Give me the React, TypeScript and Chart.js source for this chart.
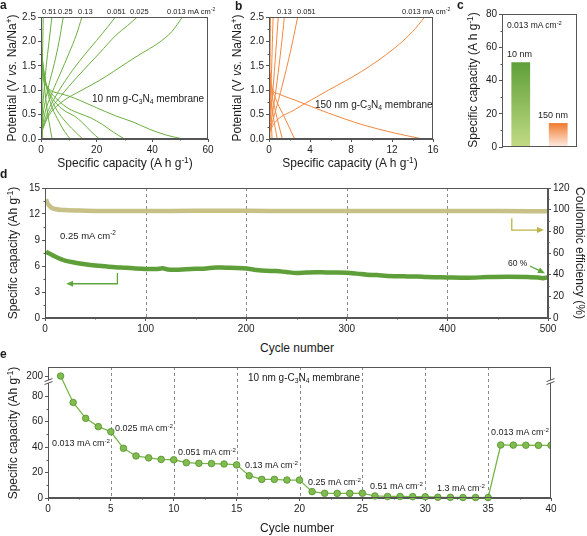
import React, { useEffect, useRef } from 'react';
import { Chart, registerables, LinearScale } from 'chart.js';

Chart.register(...registerables);

const FONT = "'Liberation Sans', Arial, Helvetica, sans-serif";
Chart.defaults.font.family = FONT;
Chart.defaults.color = '#222';

const AXIS = '#555';
const GREEN = '#6aae3e';
const ORANGE = '#f3873e';

type P = [number, number];

// ---------- Panel a (10 nm, green) : [capacity, potential] ----------
const A_CHG_13: P[] = [[0, 0.3], [0.3, 1.0], [0.55, 1.7], [0.8, 2.5]];
const A_CHG_051: P[] = [[0, 0.2], [0.8, 0.8], [1.8, 1.45], [2.9, 2.0], [3.9, 2.5]];
const A_CHG_025: P[] = [[0, 0.15], [1, 0.6], [2.8, 1.1], [4.8, 1.55], [6.5, 2.0], [8, 2.5]];
const A_CHG_013: P[] = [[0, 0.1], [1.5, 0.55], [4, 0.95], [7, 1.35], [10, 1.75], [12.8, 2.15], [14.7, 2.5]];
const A_CHG_0051: P[] = [[0, 0.1], [2, 0.5], [5, 0.85], [10, 1.3], [15, 1.68], [20, 2.02], [24, 2.3], [26.7, 2.5]];
const A_CHG_0025: P[] = [[0, 0.1], [3, 0.55], [7, 0.87], [13, 1.27], [21, 1.76], [27, 2.13], [31, 2.32], [34.6, 2.5]];
const A_CHG_0013: P[] = [[0, 0.15], [3, 0.5], [8, 0.78], [14, 0.98], [21, 1.2], [26, 1.38], [31, 1.57], [36, 1.75], [42, 1.96], [47, 2.2], [50.8, 2.5]];
const A_DIS_0013: P[] = [[0, 1.5], [1, 1.2], [3, 1.02], [7, 0.93], [10, 0.88], [14, 0.79], [20, 0.64], [27, 0.47], [33, 0.35], [39, 0.2], [45, 0.08], [51, 0]];
const A_DIS_0025: P[] = [[0, 1.65], [1, 1.28], [3, 1.0], [6, 0.8], [10, 0.62], [14, 0.52], [18, 0.43], [22, 0.3], [26, 0.14], [30, 0]];
const A_DIS_0051: P[] = [[0, 1.75], [1, 1.32], [3, 0.95], [6, 0.7], [9, 0.56], [12, 0.47], [15, 0.33], [18, 0.15], [21, 0]];
const A_DIS_013: P[] = [[0, 1.85], [1, 1.38], [2.5, 1.0], [5, 0.66], [8, 0.41], [11, 0.22], [15, 0]];
const A_DIS_025: P[] = [[0, 2.0], [0.8, 1.5], [2, 1.05], [4, 0.65], [6.5, 0.35], [8.5, 0.15], [10.5, 0]];
const A_DIS_051: P[] = [[0, 2.2], [0.5, 1.6], [1.2, 1.1], [2.2, 0.6], [3.2, 0.25], [4, 0]];
const A_DIS_13: P[] = [[0, 2.4], [0.15, 1.6], [0.35, 0.8], [0.6, 0]];
const A_CURVES = [A_CHG_13, A_CHG_051, A_CHG_025, A_CHG_013, A_CHG_0051, A_CHG_0025, A_CHG_0013,
  A_DIS_0013, A_DIS_0025, A_DIS_0051, A_DIS_013, A_DIS_025, A_DIS_051, A_DIS_13];

// ---------- Panel b (150 nm, orange) ----------
const B_CHG_0013: P[] = [[0, 0.12], [0.5, 0.32], [2.5, 0.6], [5.8, 1.0], [9, 1.38], [12.3, 1.87], [14, 2.2], [15.2, 2.5]];
const B_CHG_0051: P[] = [[0, 0.1], [0.6, 0.55], [1.3, 1.1], [2.1, 1.8], [2.8, 2.5]];
const B_CHG_013: P[] = [[0, 0.1], [0.4, 0.6], [0.8, 1.2], [1.2, 1.9], [1.5, 2.5]];
const B_CHG_025: P[] = [[0, 0.15], [0.3, 0.8], [0.6, 1.6], [0.9, 2.5]];
const B_CHG_051: P[] = [[0, 0.2], [0.2, 1.1], [0.4, 2.5]];
const B_CHG_13: P[] = [[0, 0.3], [0.08, 1.2], [0.15, 2.5]];
const B_DIS_0013: P[] = [[0, 1.2], [0.35, 1.0], [1, 0.92], [2.5, 0.8], [5.8, 0.53], [9, 0.3], [12.3, 0.12], [15, 0]];
const B_DIS_0051: P[] = [[0, 1.45], [0.3, 1.05], [0.8, 0.75], [1.5, 0.45], [2.5, 0]];
const B_DIS_013: P[] = [[0, 1.55], [0.2, 1.05], [0.6, 0.6], [1.3, 0]];
const B_DIS_025: P[] = [[0, 1.7], [0.15, 1.0], [0.4, 0.5], [0.8, 0]];
const B_DIS_051: P[] = [[0, 1.9], [0.1, 1.0], [0.3, 0]];
const B_DIS_13: P[] = [[0, 2.1], [0.05, 1.0], [0.1, 0]];
const B_CURVES = [B_CHG_0013, B_CHG_0051, B_CHG_013, B_CHG_025, B_CHG_051, B_CHG_13,
  B_DIS_0013, B_DIS_0051, B_DIS_013, B_DIS_025, B_DIS_051, B_DIS_13];

// ---------- Panel c ----------
const C_LABELS = ['10 nm', '150 nm'];
const C_VALUES = [51, 14.4];
const C_TOP = ['#5e9f38', '#f07a2e'];
const C_BOTTOM = ['#c2db84', '#fdeee6'];

// ---------- Panel d : [cycle, value] ----------
const D_CAP: P[] = [[1, 7.65], [5, 7.4], [10, 7.1], [20, 6.62], [30, 6.38], [40, 6.2], [50, 6.06], [60, 5.96], [70, 5.86],
  [80, 5.8], [90, 5.72], [100, 5.66], [110, 5.64], [117, 5.74], [122, 5.6], [130, 5.57], [140, 5.62], [150, 5.67],
  [160, 5.72], [170, 5.83], [180, 5.8], [190, 5.78], [200, 5.72], [210, 5.55], [220, 5.45], [230, 5.42], [240, 5.3],
  [250, 5.2], [260, 5.25], [270, 5.28], [280, 5.25], [290, 5.25], [300, 5.22], [310, 5.12], [320, 5.0], [330, 4.95],
  [340, 4.85], [350, 4.82], [360, 4.8], [370, 4.78], [380, 4.72], [390, 4.7], [400, 4.68], [420, 4.65], [440, 4.72],
  [460, 4.75], [480, 4.72], [490, 4.68], [495, 4.6], [500, 4.7]];
const D_CE: P[] = [[1, 109.5], [2, 107], [4, 104], [6, 102.2], [10, 100.6], [20, 99.6], [40, 99.1], [100, 98.8],
  [150, 98.9], [200, 98.9], [250, 98.8], [300, 98.8], [350, 98.8], [400, 98.7], [450, 98.7], [500, 98.6]];

// ---------- Panel e ----------
const E_CYCLES = [1, 2, 3, 4, 5, 6, 7, 8, 9, 10, 11, 12, 13, 14, 15, 16, 17, 18, 19, 20,
  21, 22, 23, 24, 25, 26, 27, 28, 29, 30, 31, 32, 33, 34, 35, 36, 37, 38, 39, 40];
const E_CAP = [200, 75, 62.5, 56, 52, 39, 33, 31.5, 30.3, 30, 27.7, 27.2, 27, 26.7, 26,
  17.5, 14.6, 14.6, 14.1, 14.1, 5, 3.7, 3.6, 3.6, 3.7, 1.6, 1.2, 1.2, 1.1, 1.0,
  0.6, 0.5, 0.4, 0.4, 0.3, 41.6, 41.5, 41.4, 41.3, 41.3];
const E_TICKS = [0, 20, 40, 60, 80, 200];

// broken axis mapping for panel e
const BRK_LO = 90, BRK_HI = 190, BRK_SLOPE = 0.57, BRK_VMAX = 102.8;
const fwd = (v: number) => (v <= BRK_LO ? v : v >= BRK_HI ? BRK_LO + (v - BRK_HI) * BRK_SLOPE : BRK_LO);
const inv = (u: number) => (u <= BRK_LO ? u : BRK_HI + (u - BRK_LO) / BRK_SLOPE);

class BrokenScale extends (LinearScale as any) {
  static id = 'broken';
  static defaults = {};
  determineDataLimits() { (this as any).min = 0; (this as any).max = BRK_VMAX; }
  buildTicks() { return E_TICKS.map((value) => ({ value })); }
  getPixelForValue(v: number) { return super.getPixelForValue(fwd(v)); }
  getValueForPixel(p: number) { return inv(super.getValueForPixel(p)); }
}
Chart.register(BrokenScale as any);

// ---------- helpers ----------
const grid = { display: true, drawOnChartArea: false, drawTicks: true, tickLength: 3, color: AXIS, lineWidth: 1 };
const border = { display: true, color: AXIS, width: 1 };
const tk = (extra: any = {}) => ({ font: { family: FONT, size: 10 }, color: '#222', padding: 2, autoSkip: false, maxRotation: 0, ...extra });

function lin(min: number, max: number, step: number, fit: (s: any) => void, tickExtra: any = {}, extra: any = {}) {
  return { type: 'linear', min, max, grid, border, ticks: tk({ stepSize: step, ...tickExtra }), afterFit: fit, ...extra };
}

function drawArrow(ctx: CanvasRenderingContext2D, pts: P[], color: string) {
  ctx.save();
  ctx.strokeStyle = color; ctx.fillStyle = color; ctx.lineWidth = 1.3;
  const n = pts.length;
  const [x1, y1] = pts[n - 2]; const [x2, y2] = pts[n - 1];
  const ang = Math.atan2(y2 - y1, x2 - x1);
  const L = 7, W = 3;
  ctx.beginPath();
  pts.forEach(([x, y], i) => {
    if (i === 0) ctx.moveTo(x, y);
    else if (i === n - 1) ctx.lineTo(x - (L - 1) * Math.cos(ang), y - (L - 1) * Math.sin(ang));
    else ctx.lineTo(x, y);
  });
  ctx.stroke();
  ctx.beginPath();
  ctx.moveTo(x2, y2);
  ctx.lineTo(x2 - L * Math.cos(ang) + W * Math.sin(ang), y2 - L * Math.sin(ang) - W * Math.cos(ang));
  ctx.lineTo(x2 - L * Math.cos(ang) - W * Math.sin(ang), y2 - L * Math.sin(ang) + W * Math.cos(ang));
  ctx.closePath(); ctx.fill();
  ctx.restore();
}

type Decor = {
  dashX?: number[];
  arrows?: { pts: P[]; axis: string; color: string }[];
  breakY?: boolean;
};

function decor(opt: Decor) {
  return {
    id: 'decor',
    beforeDatasetsDraw(chart: any) {
      const { ctx, chartArea: a, scales } = chart;
      if (opt.dashX) {
        ctx.save();
        ctx.strokeStyle = '#8a8a8a'; ctx.lineWidth = 1; ctx.setLineDash([3, 3]);
        for (const v of opt.dashX) {
          const x = Math.round(scales.x.getPixelForValue(v)) + 0.5;
          ctx.beginPath(); ctx.moveTo(x, a.top); ctx.lineTo(x, a.bottom); ctx.stroke();
        }
        ctx.restore();
      }
    },
    afterDraw(chart: any) {
      const { ctx, chartArea: a, scales } = chart;
      ctx.save();
      ctx.strokeStyle = AXIS; ctx.lineWidth = 1;
      const l = Math.round(a.left) + 0.5, t = Math.round(a.top) + 0.5;
      const r = Math.round(a.right) - 0.5, b = Math.round(a.bottom) - 0.5;
      ctx.strokeRect(l, t, r - l, b - t);
      for (const id of Object.keys(scales)) {
        const s = scales[id];
        if (s.options.display === false || s.type === 'category') continue;
        const vals = s.ticks.map((q: any) => q.value);
        if (vals.length < 2) continue;
        const step = vals[1] - vals[0];
        ctx.beginPath();
        for (let i = 0; i < vals.length - 1; i++) {
          if (Math.abs(vals[i + 1] - vals[i] - step) > 1e-9) continue;
          const p = Math.round(s.getPixelForValue((vals[i] + vals[i + 1]) / 2)) + 0.5;
          if (s.isHorizontal()) { ctx.moveTo(p, b); ctx.lineTo(p, b + 2); }
          else if (s.position === 'right') { ctx.moveTo(r, p); ctx.lineTo(r + 2, p); }
          else { ctx.moveTo(l, p); ctx.lineTo(l - 2, p); }
        }
        ctx.stroke();
      }
      if (opt.breakY) {
        const ys = scales.y;
        const p200 = ys.getPixelForValue(200), p80 = ys.getPixelForValue(80);
        const p = p200 + (p80 - p200) * 0.3;
        for (const x of [l, r]) {
          ctx.fillStyle = '#fff';
          ctx.fillRect(x - 2, p - 2, 4, 3);
          ctx.beginPath();
          ctx.moveTo(x - 4, p - 0.5); ctx.lineTo(x + 4, p - 3.5);
          ctx.moveTo(x - 4, p + 2.5); ctx.lineTo(x + 4, p - 0.5);
          ctx.strokeStyle = AXIS; ctx.stroke();
        }
      }
      ctx.restore();
      if (opt.arrows) {
        for (const ar of opt.arrows) {
          const pts: P[] = ar.pts.map(([x, y]) => [scales.x.getPixelForValue(x), scales[ar.axis].getPixelForValue(y)]);
          drawArrow(ctx, pts, ar.color);
        }
      }
    },
  };
}

const noPlug = { legend: { display: false }, tooltip: { enabled: false } };

const lineSet = (data: P[], color: string) => ({
  data, borderColor: color, borderWidth: 1, pointRadius: 0, fill: false, cubicInterpolationMode: 'monotone',
});

// ---------- chart configs ----------
function makeA() {
  return {
    type: 'line',
    data: { datasets: A_CURVES.map((d) => lineSet(d, GREEN)) },
    options: {
      responsive: false, animation: false, events: [],
      layout: { padding: { left: 0, right: 12, top: 17, bottom: 10 } },
      plugins: noPlug,
      scales: {
        x: lin(0, 60, 20, (s) => { s.height = 16; }),
        y: lin(0, 2.5, 0.5, (s) => { s.width = 41; }, { callback: (v: number) => v.toFixed(1) }),
      },
    },
    plugins: [decor({})],
  };
}

function makeB() {
  return {
    type: 'line',
    data: { datasets: B_CURVES.map((d) => lineSet(d, ORANGE)) },
    options: {
      responsive: false, animation: false, events: [],
      layout: { padding: { left: 0, right: 15, top: 17, bottom: 10 } },
      plugins: noPlug,
      scales: {
        x: lin(0, 16, 4, (s) => { s.height = 16; }),
        y: lin(0, 2.5, 0.5, (s) => { s.width = 41; }, { callback: (v: number) => v.toFixed(1) }),
      },
    },
    plugins: [decor({})],
  };
}

function makeC() {
  return {
    type: 'bar',
    data: {
      labels: C_LABELS,
      datasets: [{
        data: C_VALUES,
        barPercentage: 0.5,
        categoryPercentage: 1,
        backgroundColor: (c: any) => {
          const chart = c.chart; const a = chart.chartArea; const i = c.dataIndex;
          if (!a) return C_TOP[i];
          const top = chart.scales.y.getPixelForValue(c.raw);
          const g = chart.ctx.createLinearGradient(0, top, 0, a.bottom);
          g.addColorStop(0, C_TOP[i]); g.addColorStop(1, C_BOTTOM[i]);
          return g;
        },
      }],
    },
    options: {
      responsive: false, animation: false, events: [],
      layout: { padding: { left: 0, right: 10, top: 14, bottom: 18 } },
      plugins: noPlug,
      scales: {
        x: { type: 'category', display: false },
        y: lin(0, 80, 20, (s) => { s.width = 36; }),
      },
    },
    plugins: [decor({})],
  };
}

function makeD() {
  return {
    type: 'line',
    data: {
      datasets: [
        { data: D_CE, yAxisID: 'y1', borderColor: '#c8c187', borderWidth: 4.5, pointRadius: 0, cubicInterpolationMode: 'monotone' },
        { data: D_CE, yAxisID: 'y1', borderColor: '#ebe7c6', borderWidth: 1.8, pointRadius: 0, cubicInterpolationMode: 'monotone' },
        { data: D_CAP, yAxisID: 'y', borderColor: '#5f9f39', borderWidth: 4.5, pointRadius: 0, cubicInterpolationMode: 'monotone' },
      ],
    },
    options: {
      responsive: false, animation: false, events: [],
      layout: { padding: { left: 0, right: 9, top: 10, bottom: 6 } },
      plugins: noPlug,
      scales: {
        x: lin(0, 500, 100, (s) => { s.height = 16; }),
        y: lin(0, 15, 3, (s) => { s.width = 45; }),
        y1: lin(0, 120, 20, (s) => { s.width = 30; }, {}, { position: 'right' }),
      },
    },
    plugins: [decor({
      dashX: [100, 200, 300, 400],
      arrows: [
        { pts: [[72, 5.2], [72, 3.95], [21, 3.95]], axis: 'y', color: '#5fa63c' },
        { pts: [[464, 92], [464, 81.2], [496, 81.2]], axis: 'y1', color: '#bdb446' },
        { pts: [[482, 48], [497, 41.3]], axis: 'y1', color: '#5fa63c' },
      ],
    })],
  };
}

function makeE() {
  return {
    type: 'line',
    data: {
      datasets: [{
        data: E_CYCLES.map((c, i) => [c, E_CAP[i]]),
        borderColor: '#78b548', borderWidth: 1.3, tension: 0,
        pointRadius: 3.3, pointBackgroundColor: '#80bd4e', pointBorderColor: '#548f30', pointBorderWidth: 0.8,
      }],
    },
    options: {
      responsive: false, animation: false, events: [],
      layout: { padding: { left: 0, right: 36, top: 9, bottom: 20 } },
      plugins: noPlug,
      scales: {
        x: lin(0, 40, 5, (s) => { s.height = 18; }),
        y: { type: 'broken', grid, border, ticks: tk({ callback: (v: number) => String(v) }), afterFit: (s: any) => { s.width = 48; } },
      },
    },
    plugins: [decor({ dashX: [5, 10, 15, 20, 25, 30, 35], breakY: true })],
  };
}

// ---------- components ----------
function ChartBox({ left, top, width, height, make }: any) {
  const ref = useRef<HTMLCanvasElement>(null);
  useEffect(() => {
    const chart = new Chart(ref.current as HTMLCanvasElement, make());
    return () => chart.destroy();
  }, []);
  return <canvas ref={ref} width={width} height={height} style={{ position: 'absolute', left, top, width, height }} />;
}

const Sup = ({ children }: any) => (
  <span style={{ fontSize: '0.68em', position: 'relative', top: '-0.55em', lineHeight: 0 }}>{children}</span>
);
const Sub = ({ children }: any) => (
  <span style={{ fontSize: '0.68em', position: 'relative', top: '0.35em', lineHeight: 0 }}>{children}</span>
);

function T({ x, y, s = 9, rot = 0, center = false, bold = false, children }: any) {
  const transform = rot ? `translate(-50%,-50%) rotate(${rot}deg)` : center ? 'translate(-50%,-50%)' : 'translateY(-50%)';
  return (
    <div style={{
      position: 'absolute', left: x, top: y, transform, fontSize: s, lineHeight: 1, whiteSpace: 'nowrap',
      fontFamily: FONT, fontWeight: bold ? 700 : 400, color: '#1a1a1a',
    }}>{children}</div>
  );
}

const cm2 = <>mA cm<Sup>-2</Sup></>;
const potTitle = <>Potential (V <i>vs.</i> Na/Na<Sup>+</Sup>)</>;
const capTitle = <>Specific capacity (A h g<Sup>-1</Sup>)</>;
const capTitle2 = <>Specific capacity (Ah g<Sup>-1</Sup>)</>;

export default function App() {
  return (
    <div style={{ position: 'absolute', left: 0, top: 0, width: 587, height: 536, background: '#fff', overflow: 'hidden' }}>
      <ChartBox left={0} top={0} width={220} height={165} make={makeA} />
      <ChartBox left={228} top={0} width={220} height={165} make={makeB} />
      <ChartBox left={466} top={0} width={121} height={165} make={makeC} />
      <ChartBox left={0} top={178} width={587} height={162} make={makeD} />
      <ChartBox left={0} top={358} width={587} height={178} make={makeE} />

      {/* panel letters */}
      <T x={0} y={5} s={12} bold>a</T>
      <T x={235} y={6} s={12} bold>b</T>
      <T x={457} y={5} s={12} bold>c</T>
      <T x={0} y={174} s={12} bold>d</T>
      <T x={0} y={354} s={12} bold>e</T>

      {/* panel a */}
      <T x={12} y={78} s={12} rot={-90}>{potTitle}</T>
      <T x={125} y={163} s={12} center>{capTitle}</T>
      <T x={42} y={12} s={7.5}>0.51</T>
      <T x={58} y={12} s={7.5}>0.25</T>
      <T x={78} y={12} s={7.5}>0.13</T>
      <T x={107} y={12} s={7.5}>0.051</T>
      <T x={130} y={12} s={7.5}>0.025</T>
      <T x={167} y={12} s={7.5}>0.013 {cm2}</T>
      <T x={92} y={99} s={10}>10 nm g-C<Sub>3</Sub>N<Sub>4</Sub> membrane</T>

      {/* panel b */}
      <T x={237} y={78} s={12} rot={-90}>{potTitle}</T>
      <T x={350} y={163} s={12} center>{capTitle}</T>
      <T x={277} y={12} s={7.5}>0.13</T>
      <T x={297} y={12} s={7.5}>0.051</T>
      <T x={402} y={12} s={7.5}>0.013 {cm2}</T>
      <T x={315} y={105} s={10}>150 nm g-C<Sub>3</Sub>N<Sub>4</Sub> membrane</T>

      {/* panel c */}
      <T x={473} y={80} s={12} rot={-90}>{capTitle}</T>
      <T x={507} y={25} s={8.5}>0.013 {cm2}</T>
      <T x={507} y={54} s={9}>10 nm</T>
      <T x={538} y={115} s={9}>150 nm</T>

      {/* panel d */}
      <T x={13} y={253} s={12} rot={-90}>{capTitle2}</T>
      <T x={580} y={253} s={12} rot={90}>Coulombic efficiency (%)</T>
      <T x={297} y={348} s={12} center>Cycle number</T>
      <T x={60} y={236} s={9.5}>0.25 {cm2}</T>
      <T x={508} y={263} s={8.5}>60 %</T>

      {/* panel e */}
      <T x={13} y={433} s={12} rot={-90}>{capTitle2}</T>
      <T x={297} y={528} s={12} center>Cycle number</T>
      <T x={248} y={378} s={10}>10 nm g-C<Sub>3</Sub>N<Sub>4</Sub> membrane</T>
      <T x={52} y={443} s={9}>0.013 {cm2}</T>
      <T x={115} y={428} s={9}>0.025 {cm2}</T>
      <T x={178} y={452} s={9}>0.051 {cm2}</T>
      <T x={245} y={465} s={9}>0.13 {cm2}</T>
      <T x={308} y={482} s={9}>0.25 {cm2}</T>
      <T x={370} y={486} s={9}>0.51 {cm2}</T>
      <T x={437} y={488} s={9}>1.3 {cm2}</T>
      <T x={491} y={432} s={9}>0.013 {cm2}</T>
    </div>
  );
}
